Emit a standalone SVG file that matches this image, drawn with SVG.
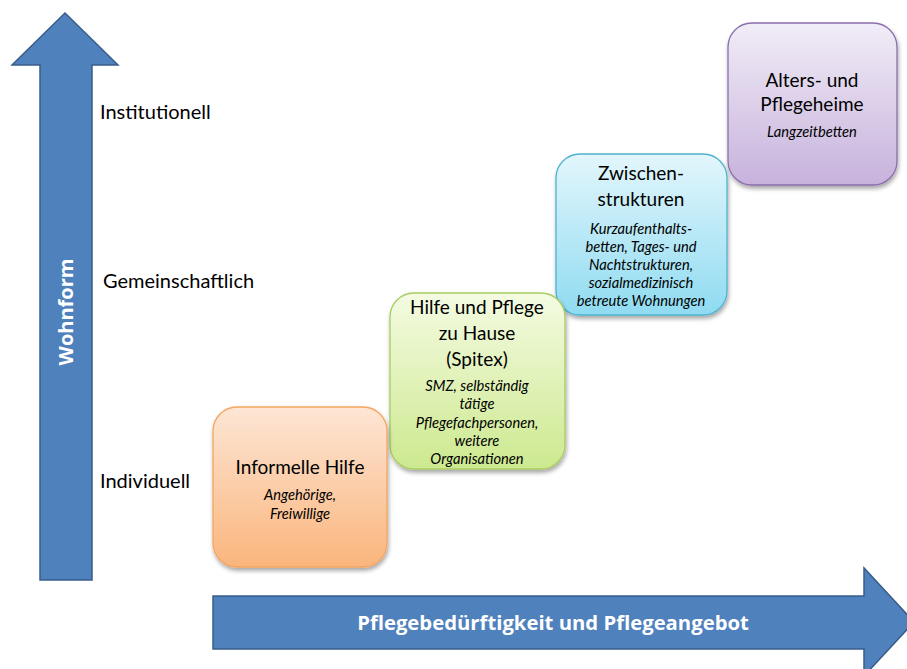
<svg xmlns="http://www.w3.org/2000/svg" width="907" height="669" viewBox="0 0 907 669">
  <defs>
    <linearGradient id="gOrange" x1="0" y1="0" x2="0" y2="1">
      <stop offset="0" stop-color="#fde6d5"/>
      <stop offset="1" stop-color="#fab57c"/>
    </linearGradient>
    <linearGradient id="gGreen" x1="0" y1="0" x2="0" y2="1">
      <stop offset="0" stop-color="#f4fbe2"/>
      <stop offset="1" stop-color="#cde98f"/>
    </linearGradient>
    <linearGradient id="gBlue" x1="0" y1="0" x2="0" y2="1">
      <stop offset="0" stop-color="#e3f6fc"/>
      <stop offset="1" stop-color="#8fdbf1"/>
    </linearGradient>
    <linearGradient id="gPurple" x1="0" y1="0" x2="0" y2="1">
      <stop offset="0" stop-color="#f1edf7"/>
      <stop offset="1" stop-color="#c7b2dc"/>
    </linearGradient>
    <filter id="shadow" x="-10%" y="-10%" width="125%" height="125%">
      <feDropShadow dx="1" dy="3" stdDeviation="2" flood-color="#000" flood-opacity="0.35"/>
    </filter>
  </defs>
  <style>
    .arrow { fill: #4f81bd; stroke: #385d8a; stroke-width: 1.5; }
    .axis { font-family: "Open Sans", "Noto Sans", sans-serif; font-weight: bold; fill: #ffffff; text-anchor: middle; }
    .lbl { font-family: Lato, "Liberation Sans", sans-serif; font-size: 20px; fill: #000; }
    .title { font-family: Lato, "Liberation Sans", sans-serif; font-size: 19px; fill: #000; text-anchor: middle; }
    .sub { font-family: Lato, "Liberation Sans", sans-serif; font-size: 14.7px; font-style: italic; fill: #000; text-anchor: middle; }
    .box { filter: url(#shadow); stroke-width: 1.3; }
  </style>

  <g id="axis-vertical">
    <polygon class="arrow" points="65,13 118,65 92,65 92,580 40,580 40,65 12,65"/>
    <text class="axis" font-size="20" transform="translate(73,312) rotate(-90)">Wohnform</text>
  </g>

  <g id="axis-horizontal">
    <polygon class="arrow" points="213,596 864,596 864,568 914,622 864,676 864,649 213,649"/>
    <text class="axis" font-size="20.3" x="553" y="630">Pflegebedürftigkeit und Pflegeangebot</text>
  </g>

  <g id="labels">
    <text class="lbl" x="100" y="119">Institutionell</text>
    <text class="lbl" x="103" y="288">Gemeinschaftlich</text>
    <text class="lbl" x="100" y="488">Individuell</text>
  </g>

  <g id="connectors"></g>

  <g id="node-purple">
    <rect class="box" x="728" y="23" width="169" height="162" rx="24" fill="url(#gPurple)" stroke="#8a6fae"/>
    <text class="title" x="812" y="87">Alters- und</text>
    <text class="title" x="812" y="111">Pflegeheime</text>
    <text class="sub" x="812" y="137">Langzeitbetten</text>
  </g>

  <g id="node-blue">
    <rect class="box" x="556" y="154" width="171" height="161" rx="24" fill="url(#gBlue)" stroke="#4fb3cf"/>
    <text class="title" x="641" y="180">Zwischen-</text>
    <text class="title" x="641" y="206">strukturen</text>
    <text class="sub" x="641" y="234">Kurzaufenthalts-</text>
    <text class="sub" x="641" y="252">betten, Tages- und</text>
    <text class="sub" x="641" y="270">Nachtstrukturen,</text>
    <text class="sub" x="641" y="288">sozialmedizinisch</text>
    <text class="sub" x="641" y="306">betreute Wohnungen</text>
  </g>

  <g id="node-green">
    <rect class="box" x="390" y="293" width="175" height="176" rx="24" fill="url(#gGreen)" stroke="#a9cc62"/>
    <text class="title" x="477" y="314">Hilfe und Pflege</text>
    <text class="title" x="477" y="340">zu Hause</text>
    <text class="title" x="477" y="366">(Spitex)</text>
    <text class="sub" x="477" y="391">SMZ, selbständig</text>
    <text class="sub" x="477" y="409">tätige</text>
    <text class="sub" x="477" y="428">Pflegefachpersonen,</text>
    <text class="sub" x="477" y="446">weitere</text>
    <text class="sub" x="477" y="464">Organisationen</text>
  </g>

  <g id="node-orange">
    <rect class="box" x="213" y="407" width="174" height="160" rx="24" fill="url(#gOrange)" stroke="#f5a55f"/>
    <text class="title" x="300" y="474">Informelle Hilfe</text>
    <text class="sub" x="300" y="500">Angehörige,</text>
    <text class="sub" x="300" y="519">Freiwillige</text>
  </g>
</svg>
